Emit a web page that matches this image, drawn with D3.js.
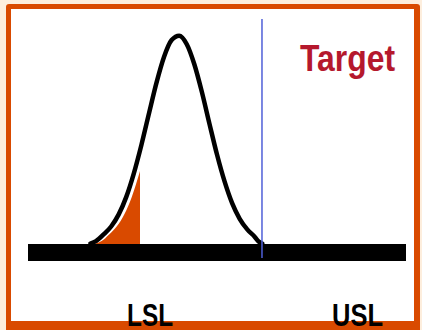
<!DOCTYPE html>
<html>
<head>
<meta charset="utf-8">
<script src="https://cdn.jsdelivr.net/npm/d3@7"></script>
<style>
  html, body { margin: 0; padding: 0; background: #fdeedd; }
  svg { display: block; }
</style>
</head>
<body>
<div id="chart"></div>
<script>
const measure = [16.5, 18, 20, 22, 24, 26, 28, 30, 32, 34, 36, 38, 40, 42, 44, 46, 48, 50, 52, 54, 56, 58, 60, 61, 62];
const density = [0.002, 0.014, 0.046, 0.084, 0.142, 0.226, 0.339, 0.475, 0.626, 0.774, 0.898, 0.978, 0.999,
                 0.958, 0.862, 0.729, 0.577, 0.429, 0.300, 0.196, 0.121, 0.070, 0.034, 0.012, 0.002];

// Limits and labels
const lslCut = 29.6;      // end of the shaded tail
const targetValue = 61.9; // blue line
const labelNames = ["LSL", "USL"];
const labelValues = [32.3, 87.2];
const labelWidths = [46, 51];
const titleText = "Target";

const width = 422, height = 330;
const colorFrame = "#d94a00";
const colorTail = "#d94a00";
const colorTarget = "#b5182d";
const colorLine = "#4f5fd8";

const svg = d3.select("#chart")
    .append("svg")
    .attr("width", width)
    .attr("height", height);

// Frame
svg.append("rect")
    .attr("x", 6)
    .attr("y", 4)
    .attr("width", 414)
    .attr("height", 330)
    .attr("rx", 3)
    .attr("fill", colorFrame);

svg.append("rect")
    .attr("x", 11)
    .attr("y", 9)
    .attr("width", 403)
    .attr("height", 312)
    .attr("fill", "#ffffff");

// Scales
const x = d3.scaleLinear()
    .domain([0, 100])
    .range([28, 406]);

const y = d3.scaleLinear()
    .domain([0, 1])
    .range([244, 35.5]);

const data = measure.map((m, i) => ({ m: m, h: density[i] }));

// Shaded tail below LSL (sits a little right of the curve)
svg.append("clipPath")
    .attr("id", "tail-clip")
    .append("rect")
    .attr("x", 0)
    .attr("y", 0)
    .attr("width", x(lslCut))
    .attr("height", y(0));

svg.append("g")
    .attr("clip-path", "url(#tail-clip)")
    .append("path")
    .datum(data)
    .attr("transform", "translate(5.5,0)")
    .attr("fill", colorTail)
    .attr("d", d3.area()
        .x(d => x(d.m))
        .y0(y(0))
        .y1(d => y(d.h))
        .curve(d3.curveMonotoneX));

// Bell curve
svg.append("path")
    .datum(data)
    .attr("fill", "none")
    .attr("stroke", "#000")
    .attr("stroke-width", 4.5)
    .attr("stroke-linejoin", "round")
    .attr("stroke-linecap", "round")
    .attr("d", d3.line()
        .x(d => x(d.m))
        .y(d => y(d.h))
        .curve(d3.curveMonotoneX));

// Base bar
svg.append("rect")
    .attr("x", x(0))
    .attr("y", y(0))
    .attr("width", x(100) - x(0))
    .attr("height", 17)
    .attr("fill", "#000");

// Target line
svg.append("line")
    .attr("x1", x(targetValue))
    .attr("x2", x(targetValue))
    .attr("y1", 19)
    .attr("y2", 258)
    .attr("stroke", colorLine)
    .attr("stroke-width", 1.5);

// Title
svg.append("text")
    .attr("x", 300)
    .attr("y", 71)
    .attr("textLength", 95)
    .attr("lengthAdjust", "spacingAndGlyphs")
    .style("font-family", "'Liberation Sans', Arial, sans-serif")
    .style("font-size", "36px")
    .style("font-weight", "bold")
    .style("fill", colorTarget)
    .text(titleText);

// Limit labels
svg.selectAll("text.limit")
    .data(labelNames)
    .join("text")
    .attr("class", "limit")
    .attr("x", (d, i) => x(labelValues[i]) - labelWidths[i] / 2)
    .attr("y", 326)
    .attr("textLength", (d, i) => labelWidths[i])
    .attr("lengthAdjust", "spacingAndGlyphs")
    .style("font-family", "'Liberation Sans', Arial, sans-serif")
    .style("font-size", "32px")
    .style("font-weight", "bold")
    .style("fill", "#000")
    .text(d => d);
</script>
</body>
</html>
